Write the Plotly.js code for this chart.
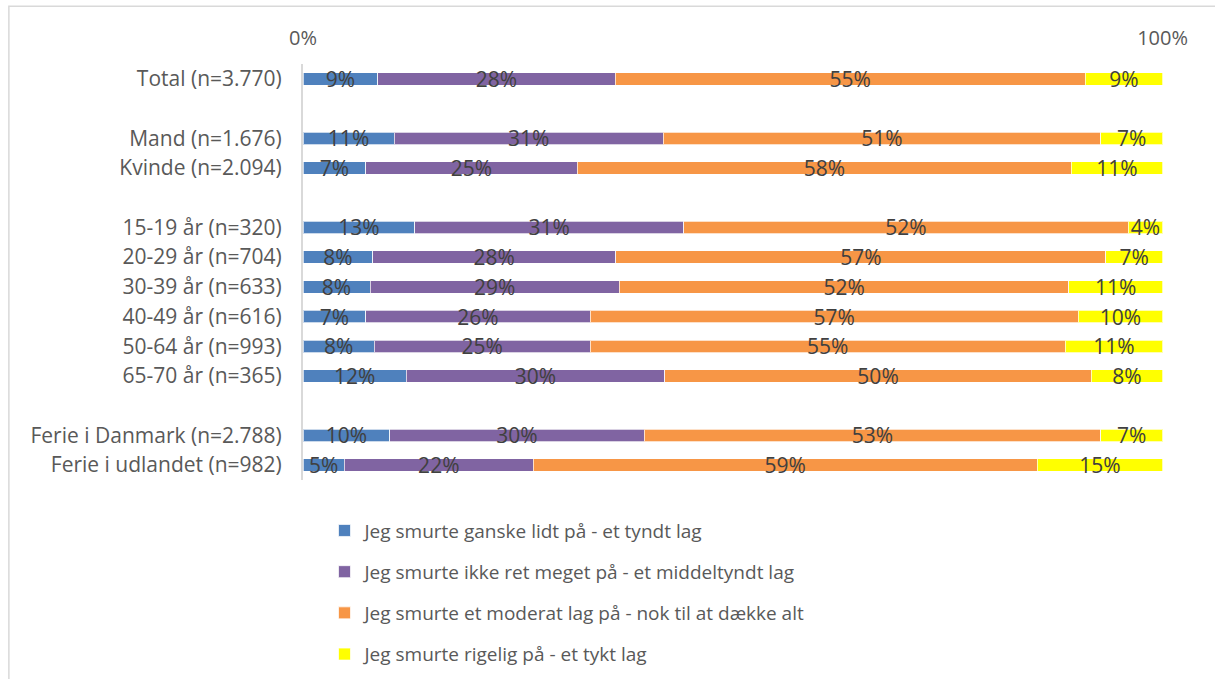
<!DOCTYPE html>
<html>
<head>
<meta charset="utf-8">
<script src="https://cdn.plot.ly/plotly-3.0.1.min.js"></script>
<style>html,body{margin:0;padding:0;background:#fff;}#chart{width:1215px;height:679px;}</style>
</head>
<body>
<div id="chart"></div>
<script>
// Categories (blank entries are spacer rows between groups)
const categories = [
  'Total (n=3.770)', ' ',
  'Mand (n=1.676)', 'Kvinde (n=2.094)', '  ',
  '15-19 år (n=320)', '20-29 år (n=704)', '30-39 år (n=633)', '40-49 år (n=616)', '50-64 år (n=993)', '65-70 år (n=365)', '   ',
  'Ferie i Danmark (n=2.788)', 'Ferie i udlandet (n=982)'
];

const seriesNames = [
  'Jeg smurte ganske lidt på - et tyndt lag',
  'Jeg smurte ikke ret meget på - et middeltyndt lag',
  'Jeg smurte et moderat lag på - nok til at dække alt',
  'Jeg smurte rigelig på - et tykt lag'
];

// Values in percent (null = spacer row)
const thin     = [8.7, null, 10.6, 7.3, null, 13.0, 8.1, 7.8, 7.3, 8.3, 12.0, null, 10.1, 4.8];
const medium   = [27.6, null, 31.3, 24.6, null, 31.3, 28.3, 29.0, 26.1, 25.1, 30.1, null, 29.6, 22.0];
const moderate = [54.7, null, 50.9, 57.5, null, 51.7, 57.0, 52.3, 56.8, 55.3, 49.6, null, 53.1, 58.6];
const thick    = [9.0, null, 7.2, 10.6, null, 4.0, 6.6, 10.9, 9.8, 11.3, 8.3, null, 7.2, 14.6];

const xTickVals = [0, 100];
const xTickText = ['0%', '100%'];

const colors = ['#4f81bd', '#8064a2', '#f79646', '#ffff00'];
const allSeries = [thin, medium, moderate, thick];

const FONT = '"Open Sans", "Noto Sans", sans-serif';

const traces = allSeries.map((vals, i) => ({
  type: 'bar',
  orientation: 'h',
  name: seriesNames[i],
  y: categories,
  x: vals,
  marker: {color: colors[i], line: {color: 'rgba(255,255,255,0.7)', width: 1}},
  texttemplate: '%{x:.0f}%',
  textposition: 'inside',
  insidetextanchor: 'middle',
  constraintext: 'none',
  textangle: 0,
  insidetextfont: {family: FONT, size: 21, color: '#404040'},
  cliponaxis: false,
  legendgroup: 'g' + i,
  hoverinfo: 'skip'
}));

const layout = {
  width: 1215,
  height: 679,
  barmode: 'stack',
  bargap: 0.58,
  paper_bgcolor: '#ffffff',
  plot_bgcolor: '#ffffff',
  margin: {l: 303, r: 52, t: 64, b: 199, autoexpand: false},
  font: {family: FONT, size: 19, color: '#595959'},
  xaxis: {
    side: 'top',
    range: [0, 100.05],
    tickvals: xTickVals,
    ticktext: xTickText,
    showgrid: false,
    zeroline: false,
    showline: false,
    ticks: '',
    ticklen: 0,
    ticklabelstandoff: 14,
    tickfont: {family: FONT, size: 20, color: '#595959'},
    fixedrange: true
  },
  yaxis: {
    type: 'category',
    categoryorder: 'array',
    categoryarray: categories,
    autorange: 'reversed',
    showgrid: false,
    zeroline: false,
    showline: true,
    linecolor: '#d9d9d9',
    linewidth: 2,
    ticks: '',
    ticklabelstandoff: 15,
    tickfont: {family: FONT, size: 21, color: '#595959'},
    fixedrange: true
  },
  showlegend: true,
  legend: {
    orientation: 'v',
    x: 0.025,
    xanchor: 'left',
    y: -0.076,
    yanchor: 'top',
    traceorder: 'grouped',
    tracegroupgap: 13.5,
    font: {family: FONT, size: 19, color: '#595959'},
    itemclick: false,
    itemdoubleclick: false
  },
  shapes: [{
    type: 'rect', xref: 'paper', yref: 'paper',
    x0: -0.342, x1: 1.2, y0: -0.7, y1: 1.139,
    line: {color: '#d9d9d9', width: 1.5},
    fillcolor: 'rgba(0,0,0,0)',
    layer: 'below'
  }]
};

Plotly.newPlot('chart', traces, layout, {displayModeBar: false, staticPlot: true});
</script>
</body>
</html>
